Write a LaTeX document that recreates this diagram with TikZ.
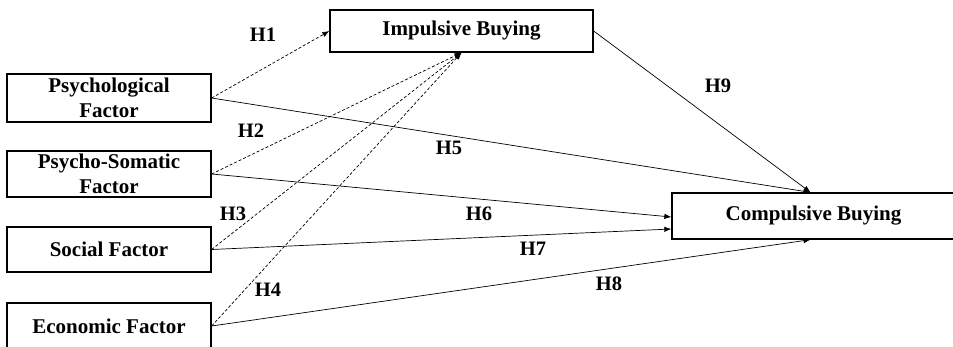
\documentclass[tikz,border=0pt]{standalone}
\usepackage{fontspec}
\setmainfont{Liberation Serif}
\usetikzlibrary{arrows.meta}
\begin{document}
\begin{tikzpicture}[x=1pt,y=-1pt,
  box/.style={draw=black,line width=1.3pt,inner sep=0pt,align=center,
    font=\fontsize{21}{25}\selectfont\bfseries},
  lbl/.style={font=\fontsize{20.5}{24}\selectfont\bfseries,inner sep=0pt},
  conn/.style={line width=0.7pt,-{Latex[length=7pt,width=5.5pt]}},
  dconn/.style={conn,dash pattern=on 3pt off 2pt}]
\useasboundingbox (0,0) rectangle (953,346);
\clip (0,0) rectangle (953,346);
\node[box,minimum width=263pt,minimum height=42pt] (imp) at (461.5,31) {Impulsive Buying};
\node[box,minimum width=283pt,minimum height=46pt] (comp) at (813.5,216) {Compulsive Buying};
\node[box,minimum width=204pt,minimum height=48pt] (psy) at (109,98) {Psychological\\Factor};
\node[box,minimum width=204pt,minimum height=46pt] (pso) at (109,174) {Psycho-Somatic\\Factor};
\node[box,minimum width=204pt,minimum height=45pt] (soc) at (109,249.5) {Social Factor};
\node[box,minimum width=204pt,minimum height=46pt] (eco) at (109,326) {Economic Factor};
% dashed to impulsive
\draw[dconn] (psy.east) -- (imp.west);
\draw[dconn] (pso.east) -- (imp.south);
\draw[dconn] (soc.east) -- (imp.south);
\draw[dconn] (eco.east) -- (imp.south);
% solid to compulsive
\draw[conn] (imp.east) -- ([xshift=-3pt]comp.north);
\draw[conn] (psy.east) -- ([xshift=-3pt]comp.north);
\draw[conn] (pso.east) -- ([yshift=-1pt]comp.west);
\draw[conn] (soc.east) -- ([yshift=-13pt]comp.west);
\draw[conn] (eco.east) -- ([xshift=-3pt]comp.south);
% labels
\node[lbl] (h1) at (263,35) {H1};
\node[lbl] (h2) at (251,131) {H2};
\node[lbl] (h3) at (233,214) {H3};
\node[lbl] (h4) at (268,290) {H4};
\node[lbl] (h5) at (449,148) {H5};
\node[lbl] (h6) at (479,214) {H6};
\node[lbl] (h7) at (533,249) {H7};
\node[lbl] (h8) at (609,284) {H8};
\node[lbl] (h9) at (718,86) {H9};
\end{tikzpicture}
\end{document}
